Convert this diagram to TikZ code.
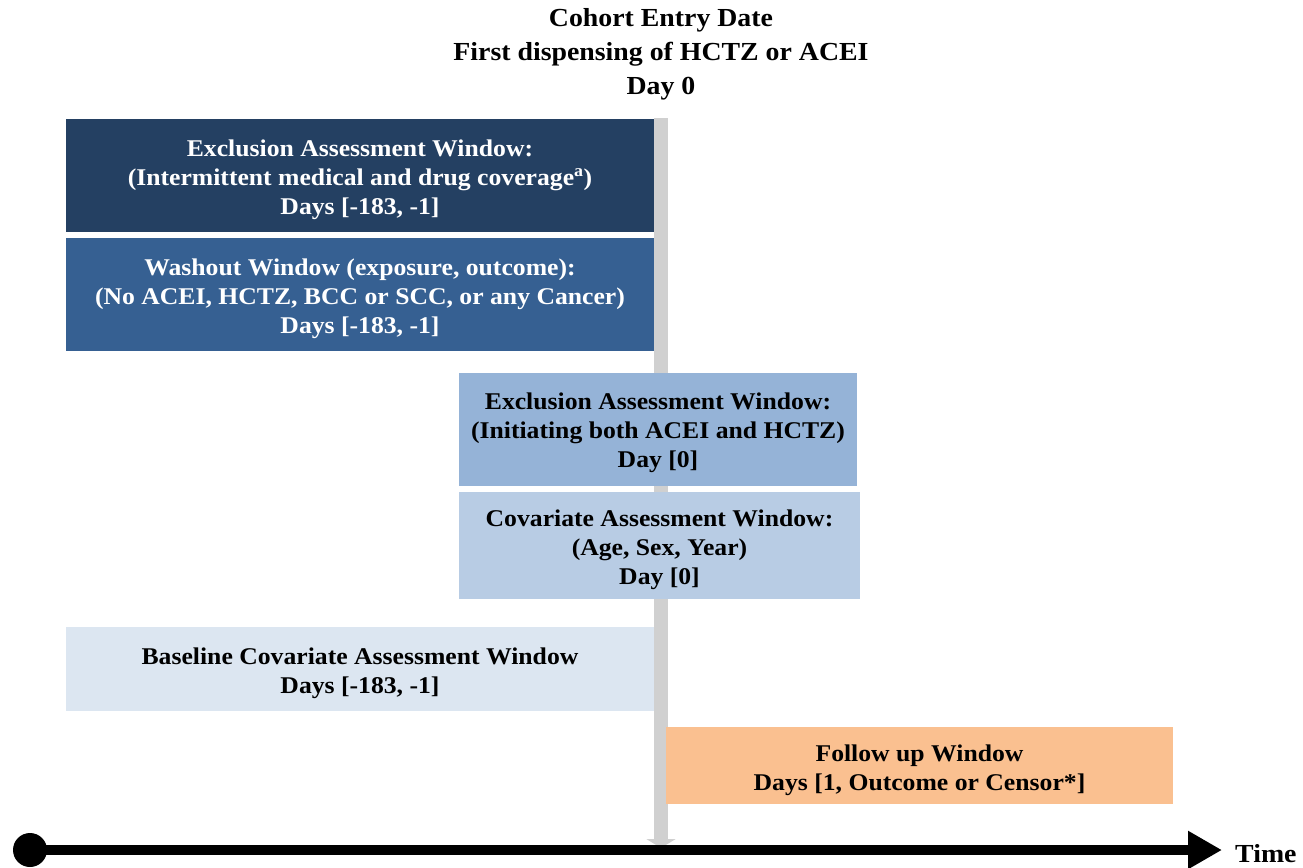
\documentclass[tikz,border=0pt]{standalone}
\usepackage{fontspec}
\setmainfont[FakeStretch=1.07]{Liberation Serif}
\usetikzlibrary{arrows.meta}
\definecolor{cA}{HTML}{244062}
\definecolor{cB}{HTML}{366092}
\definecolor{cC}{HTML}{95B3D7}
\definecolor{cD}{HTML}{B8CCE4}
\definecolor{cE}{HTML}{DCE6F1}
\definecolor{cF}{HTML}{FAC090}
\definecolor{barc}{HTML}{D0D0D0}
\tikzset{
  win/.style={draw=none, inner sep=0pt},
  wtxt/.style={inner sep=0pt, align=center, font=\fontsize{24}{29}\selectfont\bfseries},
  ttl/.style={inner sep=0pt, align=center, font=\fontsize{26}{34}\selectfont\bfseries},
}
\begin{document}
\begin{tikzpicture}[x=1pt,y=-1pt]
\useasboundingbox (0,0) rectangle (1303,867);
% vertical bar (cohort entry date)
\coordinate (bartop) at (661,118);
\coordinate (barbot) at (661,848);
\draw[barc, line width=14pt, -{Triangle[width=29pt,length=9pt]}] (bartop) -- (barbot);
% title
\node[ttl] (title) at (661,54) {Cohort Entry Date\\First dispensing of HCTZ or ACEI\\Day 0};
% windows
\node[win, fill=cA, minimum width=588pt, minimum height=113pt] (w1) at (360,175.5) {};
\node[wtxt, text=white] (t1) at ([yshift=-4.5pt]w1.center)
  {Exclusion Assessment Window:\\(Intermittent medical and drug coverage\textsuperscript{a})\\Days [-183, -1]};
\node[win, fill=cB, minimum width=588pt, minimum height=113pt] (w2) at (360,294.5) {};
\node[wtxt, text=white] (t2) at ([yshift=-4pt]w2.center)
  {Washout Window (exposure, outcome):\\(No ACEI, HCTZ, BCC or SCC, or any Cancer)\\Days [-183, -1]};
\node[win, fill=cC, minimum width=398pt, minimum height=113pt] (w3) at (658,429.5) {};
\node[wtxt] (t3) at ([yshift=-3.5pt]w3.center)
  {Exclusion Assessment Window:\\(Initiating both ACEI and HCTZ)\\Day [0]};
\node[win, fill=cD, minimum width=401pt, minimum height=107pt] (w4) at (659.5,545.5) {};
\node[wtxt] (t4) at ([yshift=-4pt]w4.center)
  {Covariate Assessment Window:\\(Age, Sex, Year)\\Day [0]};
\node[win, fill=cE, minimum width=588pt, minimum height=84pt] (w5) at (360,669) {};
\node[wtxt] (t5) at ([yshift=-4pt]w5.center)
  {Baseline Covariate Assessment Window\\Days [-183, -1]};
\node[win, fill=cF, minimum width=507pt, minimum height=77pt] (w6) at (919.5,765.5) {};
\node[wtxt] (t6) at ([yshift=-5pt]w6.center)
  {Follow up Window\\Days [1, Outcome or Censor*]};
% timeline
\node[circle, fill=black, minimum size=34pt, inner sep=0pt] (start) at (30,850) {};
\coordinate (tip) at (1222,850);
\draw[line width=10pt, -{Triangle[width=36pt,length=34pt]}] (start.center) -- (tip);
\node[anchor=base west, inner sep=0pt, font=\fontsize{26}{30}\selectfont\bfseries] (time) at (1235,862) {Time};
\end{tikzpicture}
\end{document}
